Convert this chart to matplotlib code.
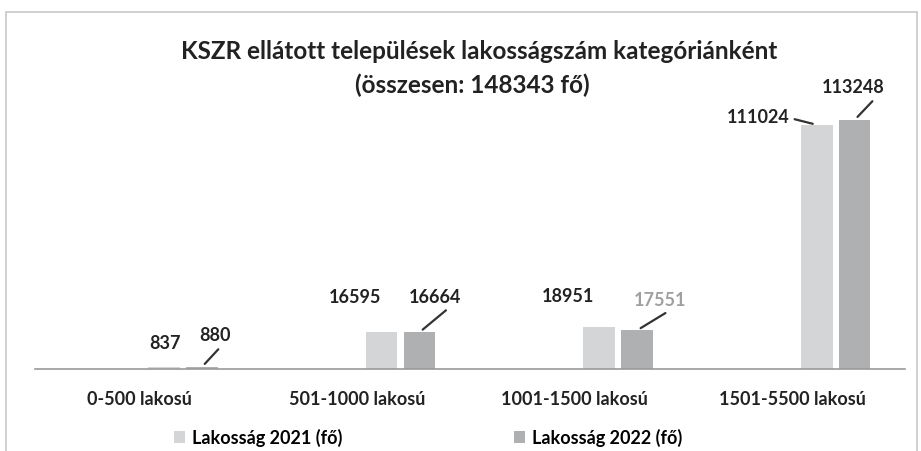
import matplotlib.pyplot as plt
from matplotlib.patches import Rectangle
import numpy as np

plt.rcParams['font.family'] = ['Lato', 'DejaVu Sans']

categories = ['0-500 lakosú', '501-1000 lakosú', '1001-1500 lakosú', '1501-5500 lakosú']
pop_2021 = [837, 16595, 18951, 111024]
pop_2022 = [880, 16664, 17551, 113248]
series_names = ['Lakosság 2021 (fő)', 'Lakosság 2022 (fő)']

col_2021 = '#d3d5d7'
col_2022 = '#aeb0b2'

fig = plt.figure(figsize=(9.21, 4.51), dpi=100)
ax = fig.add_axes([0.038, 0.182, 0.945, 0.585])

x = np.arange(len(categories))
shift = 0.2   # bars sit right of the labels in the scan
w = 0.145
b1 = ax.bar(x + shift - 0.087, pop_2021, w, color=col_2021, label=series_names[0])
b2 = ax.bar(x + shift + 0.087, pop_2022, w, color=col_2022, label=series_names[1])

ax.set_xlim(-0.48, 3.52)
ax.set_ylim(0, 120000)
ax.set_xticks(x)
ax.set_xticklabels(categories, fontsize=13, fontweight='bold', color='#222222')
ax.tick_params(axis='x', length=0, pad=16)
ax.set_yticks([])
for s in ['top', 'right', 'left']:
    ax.spines[s].set_visible(False)
ax.spines['bottom'].set_color('#9a9a9a')
ax.spines['bottom'].set_linewidth(1.2)

# data labels: offsets in pixels from the bar top, leader line or not
lab_2021 = [(1, 24, False), (-27, 35, False), (-31, 31, False), (-59, 7, True)]
lab_2022 = [(13, 31, True), (16, 35, True), (23, 30, True), (-1, 32, True)]
lab_col_2022 = ['#222222', '#222222', '#a0a0a0', '#222222']

def put_label(xpos, val, off, col):
    dx, dy, ln = off
    ap = None
    if ln:
        ap = dict(arrowstyle='-', color='#333333', lw=1.6, shrinkA=2, shrinkB=3,
                  relpos=(0.5, 0) if dy > 15 else (1.0, 0.5))
    ax.annotate(str(val), xy=(xpos, val), xytext=(dx, -dy), textcoords='offset pixels',
                ha='center', va='center', fontsize=13, fontweight='bold', color=col,
                arrowprops=ap)

for i in range(len(categories)):
    d1 = lab_2021[i]
    put_label(x[i] + shift - 0.087, pop_2021[i], (d1[0], -d1[1], d1[2]), '#222222')
    d2 = lab_2022[i]
    put_label(x[i] + shift + 0.087, pop_2022[i], (d2[0], -d2[1], d2[2]), lab_col_2022[i])

fig.text(0.52, 0.885, 'KSZR ellátott települések lakosságszám kategóriánként',
         ha='center', va='center', fontsize=17.5, fontweight='bold', color='#222222')
fig.text(0.513, 0.81, '(összesen: 148343 fő)',
         ha='center', va='center', fontsize=17.5, fontweight='bold', color='#222222')

fig.legend(handles=[b1, b2], loc='center', bbox_to_anchor=(0.465, 0.03), ncol=2,
           frameon=False, handlelength=0.6, handleheight=0.6,
           handletextpad=0.4, columnspacing=9.5,
           prop={'weight': 'bold', 'size': 13})

# frame of the scanned chart
fig.patches.append(Rectangle((0.006, -0.01), 0.99, 0.983, transform=fig.transFigure,
                             fill=False, edgecolor='#c8c8c8', lw=1.2))

fig.savefig('out.png', dpi=100)
